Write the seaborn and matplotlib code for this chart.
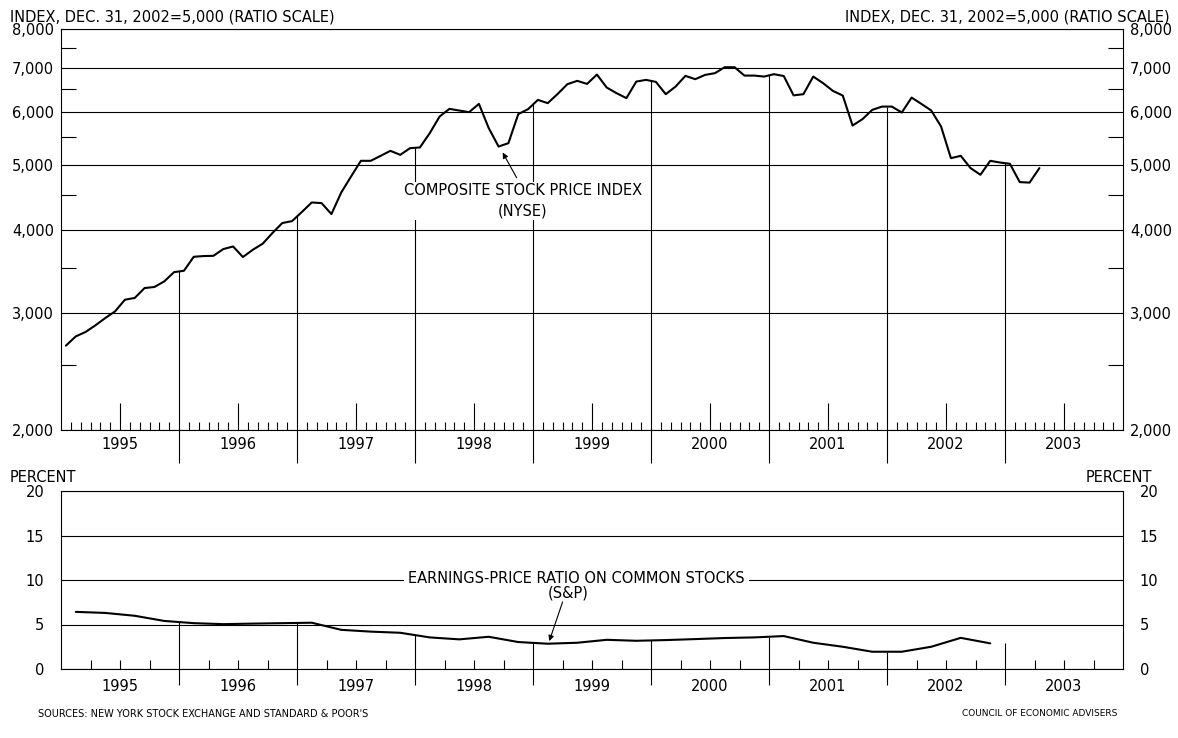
import numpy as np
import pandas as pd
import matplotlib
matplotlib.use("Agg")
import matplotlib.pyplot as plt
import matplotlib.transforms as mtransforms
from matplotlib.ticker import FixedLocator, NullFormatter, FuncFormatter
import seaborn as sns

# ---------------- data ----------------
# NYSE composite, monthly Jan 1995 - Apr 2003, index Dec 31 2002 = 5,000
nyse_values = [
    2677, 2764, 2807, 2872, 2945, 3014, 3138, 3157, 3267, 3279, 3343, 3452,
    3468, 3640, 3649, 3652, 3738, 3772, 3637, 3729, 3807, 3951, 4090, 4118,
    4250, 4392, 4382, 4219, 4546, 4805, 5072, 5072, 5160, 5250, 5178, 5299,
    5312, 5581, 5911, 6070, 6035, 6001, 6175, 5678, 5329, 5391, 5960, 6064,
    6261, 6191, 6390, 6611, 6687, 6617, 6834, 6534, 6408, 6299, 6670, 6710,
    6663, 6386, 6556, 6803, 6726, 6826, 6867, 7010, 7010, 6810, 6810, 6787,
    6843, 6800, 6360, 6386, 6787, 6634, 6459, 6356, 5730, 5857, 6049, 6118,
    6118, 5993, 6311, 6175, 6035, 5710, 5119, 5160, 4946, 4833, 5072, 5042,
    5020, 4712, 4704, 4946,
]
# S&P earnings-price ratio, quarterly Q1 1995 - Q4 2002 (percent)
ep_values = [
    6.42, 6.30, 5.98, 5.40, 5.15, 5.04, 5.10, 5.15,
    5.20, 4.40, 4.20, 4.07, 3.55, 3.33, 3.62, 3.03,
    2.84, 2.95, 3.28, 3.17, 3.25, 3.36, 3.48, 3.55,
    3.70, 2.95, 2.50, 1.94, 1.94, 2.50, 3.50, 2.88,
]
years = list(range(1995, 2004))
year_labels = [str(y) for y in years]
index_ticks = [2000, 3000, 4000, 5000, 6000, 7000, 8000]
index_minor = [2500, 3500, 4500, 5500, 6500, 7500]
percent_ticks = [0, 5, 10, 15, 20]

title_left = "INDEX, DEC. 31, 2002=5,000 (RATIO SCALE)"
nyse_label = "COMPOSITE STOCK PRICE INDEX\n(NYSE)"
ep_label1 = "EARNINGS-PRICE RATIO ON COMMON STOCKS"
ep_label2 = "(S&P)"
source_text = "SOURCES: NEW YORK STOCK EXCHANGE AND STANDARD & POOR'S"
credit_text = "COUNCIL OF ECONOMIC ADVISERS"

months = pd.date_range("1995-01-01", periods=len(nyse_values), freq="MS")
quarters = pd.date_range("1995-01-01", periods=len(ep_values), freq="QS")
nyse_df = pd.DataFrame({"t": months.year + (months.month - 0.5) / 12.0, "v": nyse_values})
ep_df = pd.DataFrame({"t": quarters.year + (quarters.month + 0.5) / 12.0, "v": ep_values})

# ---------------- style ----------------
sns.set_theme(style="white")
plt.rcParams["font.family"] = ["DejaVu Sans"]
plt.rcParams["text.color"] = "black"
plt.rcParams["axes.edgecolor"] = "black"
plt.rcParams["xtick.color"] = "black"
plt.rcParams["ytick.color"] = "black"
FS = 10.5
PX = 0.72  # points per pixel at dpi 100

W, H = 1178, 738
fig = plt.figure(figsize=(W / 100, H / 100), dpi=100)
L, R = 61, 1123
ax1 = fig.add_axes([L / W, 1 - 430 / H, (R - L) / W, (430 - 29) / H])
ax2 = fig.add_axes([L / W, 1 - 669 / H, (R - L) / W, (669 - 491) / H])

for ax in (ax1, ax2):
    for s in ax.spines.values():
        s.set_color("black")
        s.set_linewidth(0.8)
    ax.set_axisbelow(True)

# ---------------- top panel ----------------
sns.lineplot(data=nyse_df, x="t", y="v", ax=ax1, color="black", lw=1.5, zorder=3)
ax1.set_yscale("log")
ax1.set_xlim(1995, 2004)
ax1.set_ylim(2000, 8000)
ax1.set_xlabel("")
ax1.set_ylabel("")
ax1.yaxis.set_major_locator(FixedLocator(index_ticks))
ax1.yaxis.set_major_formatter(FuncFormatter(lambda v, p: f"{v:,.0f}"))
ax1.yaxis.set_minor_locator(FixedLocator(index_minor))
ax1.yaxis.set_minor_formatter(NullFormatter())
ax1.tick_params(axis="y", which="major", length=0, left=True, right=True,
                labelleft=True, labelright=True, labelsize=FS, pad=5)
ax1.tick_params(axis="y", which="minor", length=15 * PX, width=0.8, direction="in",
                left=True, right=True)
ax1.grid(True, axis="y", which="major", color="black", lw=0.8)
ax1.grid(False, axis="x")

ax1.set_xticks([y + 0.5 for y in years], labels=year_labels)
ax1.set_xticks([y + m / 12 for y in years for m in range(1, 12)], minor=True)
ax1.tick_params(axis="x", which="major", length=27 * PX, width=0.8, direction="in",
                bottom=True, labelsize=FS, pad=5)
ax1.tick_params(axis="x", which="minor", length=8 * PX, width=0.8, direction="in",
                bottom=True)

bounds = years[1:]
tops1 = np.interp(bounds, nyse_df["t"], nyse_df["v"])
ax1.vlines(bounds, 2000, tops1, color="black", lw=0.8, zorder=2)
tr1 = mtransforms.blended_transform_factory(ax1.transData, ax1.transAxes)
ax1.vlines(bounds, -33 / 401, 0, transform=tr1, clip_on=False, color="black", lw=0.8)

ax1.annotate("", xy=(1998.743, 5219), xytext=(1998.862, 4782),
             arrowprops=dict(arrowstyle="-|>", color="black", lw=0.8,
                             mutation_scale=8, shrinkA=0, shrinkB=0), zorder=5)
ax1.text(1998.915, 4418, nyse_label, ha="center", va="center", fontsize=FS,
         linespacing=1.45, multialignment="center", zorder=6,
         bbox=dict(facecolor="white", edgecolor="none", pad=1))

# ---------------- bottom panel ----------------
sns.lineplot(data=ep_df, x="t", y="v", ax=ax2, color="black", lw=1.5, zorder=3)
ax2.set_xlim(1995, 2004)
ax2.set_ylim(0, 20)
ax2.set_xlabel("")
ax2.set_ylabel("")
ax2.set_yticks(percent_ticks, labels=[str(p) for p in percent_ticks])
ax2.tick_params(axis="y", which="major", length=0, left=True, right=True,
                labelleft=True, labelright=True, labelsize=FS, pad=12)
ax2.grid(True, axis="y", which="major", color="black", lw=0.8)
ax2.grid(False, axis="x")
ax2.set_xticks([y + 0.5 for y in years], labels=year_labels)
ax2.set_xticks([y + q for y in years for q in (0.25, 0.75)], minor=True)
ax2.tick_params(axis="x", which="both", length=9 * PX, width=0.8, direction="in",
                bottom=True, labelsize=FS, pad=7)

tops2 = np.interp(bounds, ep_df["t"], ep_df["v"])
ax2.vlines(bounds, 0, tops2, color="black", lw=0.8, zorder=2)
tr2 = mtransforms.blended_transform_factory(ax2.transData, ax2.transAxes)
ax2.vlines(bounds, -16 / 178, 0, transform=tr2, clip_on=False, color="black", lw=0.8)

ax2.annotate("", xy=(1999.138, 3.14), xytext=(1999.251, 7.54),
             arrowprops=dict(arrowstyle="-|>", color="black", lw=0.8,
                             mutation_scale=8, shrinkA=0, shrinkB=0), zorder=5)
ax2.text(1999.37, 10.17, ep_label1, ha="center", va="center", fontsize=FS, zorder=6,
         bbox=dict(facecolor="white", edgecolor="none", pad=3))
ax2.text(1999.297, 8.52, ep_label2, ha="center", va="center", fontsize=FS, zorder=6)

# ---------------- figure texts ----------------
fig.text(10 / W, 1 - 17 / H, title_left, ha="left", va="center", fontsize=FS)
fig.text(1170 / W, 1 - 17 / H, title_left, ha="right", va="center", fontsize=FS)
fig.text(10 / W, 1 - 478 / H, "PERCENT", ha="left", va="center", fontsize=FS)
fig.text(1152 / W, 1 - 478 / H, "PERCENT", ha="right", va="center", fontsize=FS)
fig.text(38 / W, 1 - 714 / H, source_text, ha="left", va="center", fontsize=7)
fig.text(1117 / W, 1 - 714 / H, credit_text, ha="right", va="center", fontsize=6.5)

fig.savefig("out.png", dpi=100, facecolor="white")
